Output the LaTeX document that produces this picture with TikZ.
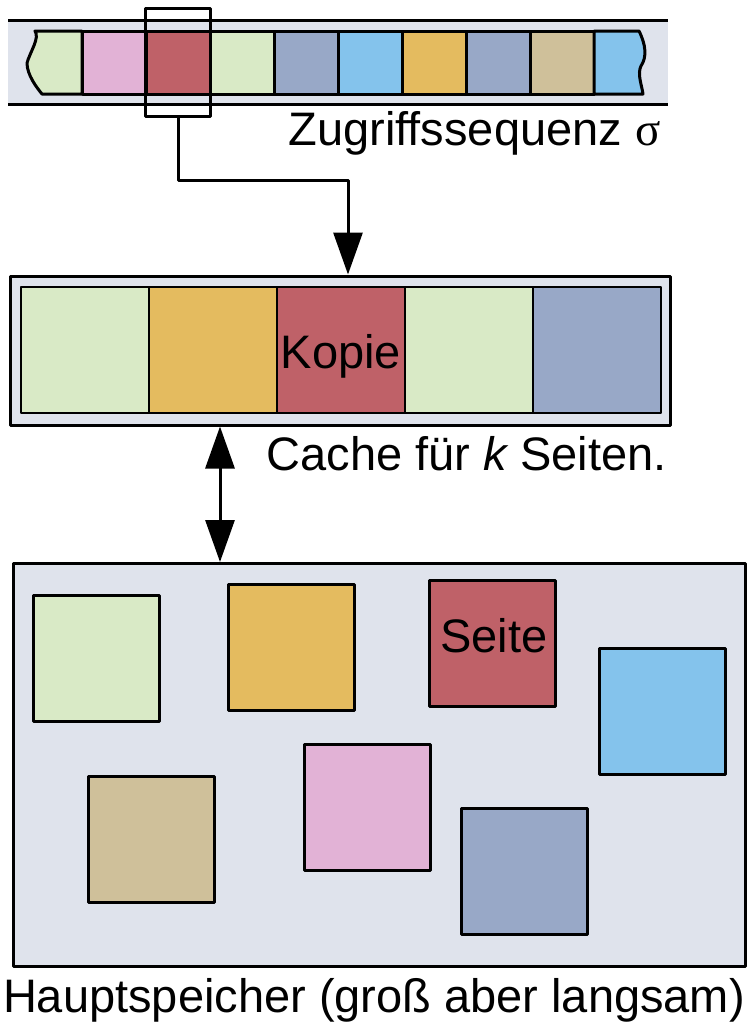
\documentclass[tikz,border=0pt]{standalone}
\usepackage{fontspec}
\setmainfont{Liberation Sans}
\newfontfamily\greekfont{Liberation Serif}
\usetikzlibrary{arrows.meta}
\usepackage{xcolor}

\definecolor{memgray}{HTML}{DFE3EC}
\definecolor{pgreen}{HTML}{D9EAC6}
\definecolor{ppink}{HTML}{E2B2D6}
\definecolor{pred}{HTML}{BF6168}
\definecolor{pblue}{HTML}{98A8C7}
\definecolor{psky}{HTML}{84C3EC}
\definecolor{porange}{HTML}{E4BB5F}
\definecolor{ptan}{HTML}{CFC09A}

\tikzset{
  seqcell/.style={draw, line width=3pt, minimum width=64pt, minimum height=63pt, inner sep=0pt},
  slot/.style={draw, line width=2.5pt, minimum width=128pt, minimum height=126pt, inner sep=0pt},
  page/.style={draw, line width=3pt, minimum size=126pt, inner sep=0pt},
  bigtip/.style={-{Triangle[length=42pt,width=29pt]}},
  dbltip/.style={{Triangle[length=42pt,width=29pt]}-{Triangle[length=42pt,width=29pt]}}
}

\begin{document}
\begin{tikzpicture}[x=1pt, y=-1pt, line width=3pt, line join=round,
  font=\fontsize{47}{56}\selectfont, every node/.append style={inner sep=0pt}]
  \useasboundingbox (0,0) rectangle (748,1028);

  % access sequence
  \fill[memgray] (8,20) rectangle (668,104);
  \draw (8,20) -- (668,20);
  \draw (8,104) -- (668,104);
  \foreach \col [count=\i from 0] in {ppink,pred,pgreen,pblue,psky,porange,pblue,ptan}
    \node[seqcell, fill=\col] (s\i) at (114+64*\i, 62.5) {};
  \filldraw[fill=pgreen] (82,31) -- (35,31) .. controls (40,38) and (30,52) .. (27,63)
    .. controls (27,75) and (37,88) .. (42,94) -- (82,94) -- cycle;
  \filldraw[fill=psky] (594,31) -- (639,31) .. controls (646,45) and (647,57) .. (641,66)
    .. controls (637,74) and (642,86) .. (643,94) -- (594,94) -- cycle;
  \node[draw, line width=3pt, minimum width=65pt, minimum height=108pt] (sel) at (s1) {};
  \node[anchor=base east] (seqlabel) at (662,145) {Zugriffssequenz {\greekfont σ}};

  % cache
  \node[draw, line width=3pt, fill=memgray, minimum width=660pt, minimum height=149pt] (cache) at (340.5,350.5) {};
  \foreach \col [count=\i from 0] in {pgreen,porange,pred,pgreen,pblue}
    \node[slot, fill=\col] (c\i) at (85+128*\i, 350) {};
  \node[anchor=base] (kopie) at (341,368) {Kopie};
  \node[anchor=base east] (cachelabel) at (668,470) {Cache für {\itshape k} Seiten.};

  % main memory
  \node[draw, line width=3pt, fill=memgray, minimum width=732pt, minimum height=403pt] (main) at (379.5,765) {};
  \node[page, fill=pgreen] (m1) at (96.5,658) {};
  \node[page, fill=porange] (m2) at (291,647.5) {};
  \node[page, fill=pred] (m3) at (492,643) {};
  \node[page, fill=psky] (m4) at (662.5,711) {};
  \node[page, fill=ptan] (m5) at (151,839) {};
  \node[page, fill=ppink] (m6) at (367.5,807.5) {};
  \node[page, fill=pblue] (m7) at (524,871) {};
  \node[anchor=base] (seite) at (494,652) {Seite};
  \node[anchor=base] (mainlabel) at (374,1012) {Hauptspeicher (groß aber langsam)};

  % connectors
  \coordinate (turn) at (348,180);
  \draw[bigtip] (sel.south) |- (turn) -- (turn |- cache.north);
  \coordinate (link) at (220,500);
  \draw[dbltip] (link |- cache.south) -- (link |- main.north);
\end{tikzpicture}
\end{document}
